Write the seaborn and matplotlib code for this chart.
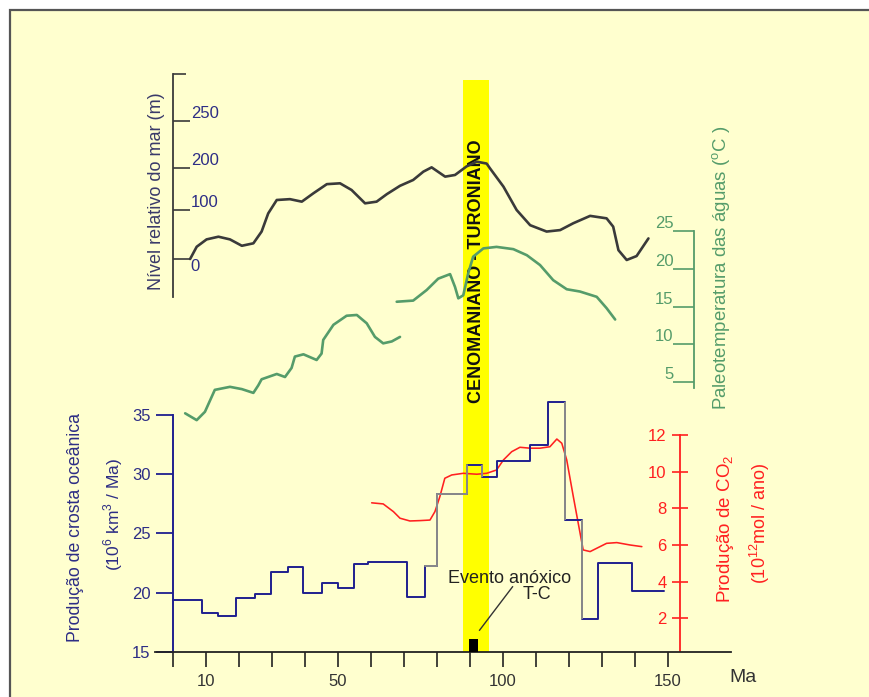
import numpy as np
import matplotlib
matplotlib.use("Agg")
import matplotlib.pyplot as plt
import seaborn as sns
from matplotlib.patches import Rectangle

# ---------------- data (ages in Ma) ----------------
# oceanic crust production, step curve (10^6 km3 / Ma)
crust_ma = [0, 8.8, 13.7, 19.0, 24.8, 29.6, 34.7, 39.5, 45.0, 49.9, 54.9, 59.2, 70.8, 76.4,
            79.9, 89.0, 93.6, 98.1, 108.3, 113.8, 118.9, 123.9, 129.0, 139.1, 149.0]
crust_val = [19.4, 18.3, 18.05, 19.5, 19.85, 21.7, 22.15, 20.0, 20.8, 20.4, 22.4, 22.6, 19.6, 22.2,
             28.3, 30.8, 29.75, 31.1, 32.5, 36.1, 26.1, 17.8, 22.5, 20.1, 20.1]
# grey parts of the crust curve
grey_ma = [76.4, 79.9, 89.0]
grey_val = [22.2, 28.3, 30.8]
grey_drop_ma = [93.6, 118.9, 123.9]

# CO2 production (10^12 mol / ano)
co2_ma = [60.2, 63.7, 66.8, 68.8, 71.8, 74.9, 77.9, 79.4, 80.9, 82.4, 84.5, 88.0, 92.1, 95.1, 98.1,
          100.2, 102.7, 105.2, 108.3, 111.3, 114.3, 116.4, 117.9, 119.4, 121.4, 122.9, 124.4,
          126.5, 128.5, 131.5, 134.6, 138.6, 142.2]
co2_val = [8.3, 8.24, 7.82, 7.46, 7.31, 7.33, 7.36, 7.82, 8.64, 9.64, 9.82, 9.91, 9.86, 9.91, 10.09,
           10.64, 11.09, 11.33, 11.28, 11.28, 11.36, 11.78, 11.55, 10.64, 8.64, 7.18, 5.73,
           5.64, 5.82, 6.09, 6.13, 6.0, 5.91]

# relative sea level (m)
sea_ma = [5.1, 7.1, 10.1, 13.7, 17.2, 20.8, 24.3, 26.8, 28.8, 31.4, 35.4, 39.0, 42.5, 46.6, 50.6,
          54.1, 58.2, 61.7, 64.8, 68.8, 72.8, 75.9, 78.4, 82.5, 85.5, 89.0, 92.1, 95.1, 96.1,
          100.2, 104.2, 108.3, 113.3, 117.4, 121.4, 126.5, 131.5, 133.5, 135.1, 137.6, 140.6, 144.2]
sea_m = [0, 25, 40, 45.5, 40, 27, 32, 56, 93, 124, 126, 120, 140, 162, 164,
         148, 116, 120, 138, 158, 172, 192, 201, 180, 184, 202, 207, 205, 200,
         156, 100, 69, 56, 59, 73, 88, 83, 66, 18, -2, 6, 42]

# paleotemperature (deg C), two pieces
temp1_ma = [3.6, 7.1, 9.6, 12.6, 17.2, 20.8, 24.3, 25.8, 26.8, 31.4, 33.9, 35.9, 36.9, 39.5, 43.5,
            45.0, 45.5, 48.6, 52.6, 55.7, 58.7, 61.2, 63.7, 66.3, 68.8]
temp1_c = [0.9, 0.0, 1.1, 4.0, 4.4, 4.1, 3.6, 4.6, 5.4, 6.1, 5.7, 6.9, 8.4, 8.7, 7.95,
           8.8, 10.6, 12.6, 13.8, 13.9, 12.8, 11.0, 10.15, 10.4, 11.0]
temp2_ma = [67.8, 72.8, 76.9, 80.4, 84.0, 85.5, 86.5, 88.0, 89.5, 91.0, 94.1, 98.1, 103.2, 107.3,
            111.3, 115.3, 119.4, 123.4, 128.5, 131.5, 134.1]
temp2_c = [15.65, 15.8, 17.2, 18.7, 19.3, 17.6, 16.1, 16.5, 19.4, 21.6, 22.7, 22.9, 22.6, 21.8,
           20.5, 18.5, 17.3, 17.0, 16.3, 14.8, 13.3]

band_start, band_end = 88.0, 95.9          # Cenomaniano - Turoniano
event_start, event_end, event_top = 89.8, 92.6, 16.05

x_ticks = list(range(0, 151, 10))
x_labels = [str(v) if v in (10, 50, 100, 150) else "" for v in x_ticks]
crust_ticks = [15, 20, 25, 30, 35]
co2_ticks = [2, 4, 6, 8, 10, 12]
temp_ticks = [5, 10, 15, 20, 25]
sea_ticks = [0, 100, 200, 250]
# the sea-level axis of the original is not evenly spaced: height (px) above the 0 mark
sea_ref_m = [-100, 0, 100, 200, 250, 350]
sea_ref_px = [-49, 0, 49, 90.7, 138, 232]

# ---------------- colours ----------------
BG = "#ffffcf"
NAVY = "#1f1f8f"
NAVY_TXT = "#2d2d85"
RED = "#ff2020"
GREEN = "#559c6a"
DARK = "#3a3a3a"
GREY = "#8a8a8a"

sns.set_theme(style="white")
plt.rcParams["font.family"] = ["Liberation Sans", "DejaVu Sans"]
plt.rcParams["mathtext.fontset"] = "custom"
plt.rcParams["mathtext.rm"] = "Liberation Sans"

W, H = 869, 697
fig = plt.figure(figsize=(W / 100, H / 100), dpi=100, facecolor="white")

# frame with pale yellow background
fig.patches.append(Rectangle((10 / W, -0.01), 1.0, 1 - 10 / H + 0.01, transform=fig.transFigure,
                             facecolor=BG, edgecolor="#555555", lw=1.6, zorder=-5))

X0_PX, PX_PER_MA = 173.3, 3.295
LEFT_PX, RIGHT_PX = 155, 731
XLIM = ((LEFT_PX - X0_PX) / PX_PER_MA, (RIGHT_PX - X0_PX) / PX_PER_MA)
TICK_FS = 12


def new_axes(top_px, bottom_px):
    ax = fig.add_axes([LEFT_PX / W, 1 - bottom_px / H, (RIGHT_PX - LEFT_PX) / W,
                       (bottom_px - top_px) / H])
    ax.set_facecolor("none")
    ax.set_xlim(*XLIM)
    for s in ax.spines.values():
        s.set_visible(False)
    ax.set_xticks([])
    ax.set_yticks([])
    ax.set_xlabel("")
    ax.set_ylabel("")
    return ax


def linear_axes(v0, px0, v1, px1, lo, hi):
    # place an axes so that value v0 sits at pixel row px0 and v1 at px1
    k = (px0 - px1) / (v1 - v0)
    ax = new_axes(px0 - (hi - v0) * k, px0 - (lo - v0) * k)
    ax.set_ylim(lo, hi)
    return ax


# ---- yellow band ----
ax_band = new_axes(80, 651.7)
ax_band.set_ylim(0, 1)
ax_band.axvspan(band_start, band_end, color="#ffff00", lw=0)
ax_band.text((band_start + band_end) / 2, 0.665, "CENOMANIANO - TURONIANO", rotation=90,
             ha="center", va="center", fontsize=13, fontweight="bold", color="#111111")

# ---- sea level ----
ax_sea = new_axes(74, 297)
sns.lineplot(x=sea_ma, y=sea_m, ax=ax_sea, color=DARK, lw=1.9, estimator=None, sort=False)
sea_fwd = lambda v: np.interp(v, sea_ref_m, sea_ref_px)
sea_inv = lambda d: np.interp(d, sea_ref_px, sea_ref_m)
ax_sea.set_yscale("function", functions=(sea_fwd, sea_inv))
ax_sea.set_ylim(sea_inv(259 - 297), sea_inv(259 - 74))
ax_sea.set_xlim(*XLIM)
ax_sea.set_xlabel("")
ax_sea.set_ylabel("")
ax_sea.spines["right"].set_visible(True)
ax_sea.spines["right"].set_position(("data", 0))
ax_sea.spines["right"].set_color(DARK)
ax_sea.spines["right"].set_linewidth(1.3)
ax_sea.yaxis.set_ticks_position("right")
ax_sea.set_yticks(sea_ticks, labels=[str(v) for v in sea_ticks])
ax_sea.set_yticks([sea_inv(259 - 74)], minor=True)
ax_sea.tick_params(axis="y", which="major", right=True, direction="out", length=12.5, width=1.2,
                   color=DARK, pad=0, labelsize=TICK_FS, labelcolor=NAVY_TXT)
ax_sea.tick_params(axis="y", which="minor", right=True, direction="out", length=9.5, width=1.2,
                   color=DARK)
for lbl in ax_sea.get_yticklabels():
    lbl.set_va("top" if lbl.get_text() == "0" else "bottom")

# ---- paleotemperature ----
ax_temp = linear_axes(5, 382.3, 25, 231, -1, 26)
for tx, ty in [(temp1_ma, temp1_c), (temp2_ma, temp2_c)]:
    sns.lineplot(x=tx, y=ty, ax=ax_temp, color=GREEN, lw=1.9, estimator=None, sort=False)
ax_temp.set_xlim(*XLIM)
ax_temp.set_ylim(-1, 26)
ax_temp.set_xlabel("")
ax_temp.set_ylabel("")
ax_temp.spines["left"].set_visible(True)
ax_temp.spines["left"].set_position(("data", (694.3 - X0_PX) / PX_PER_MA))
ax_temp.spines["left"].set_bounds(4.2, 25)
ax_temp.spines["left"].set_color(GREEN)
ax_temp.spines["left"].set_linewidth(1.3)
ax_temp.set_yticks(temp_ticks, labels=[str(v) for v in temp_ticks])
ax_temp.tick_params(axis="y", left=True, direction="out", length=15, width=1.2, color=GREEN,
                    pad=0, labelsize=TICK_FS, labelcolor=GREEN)
for lbl in ax_temp.get_yticklabels():
    lbl.set_va("bottom")

# ---- CO2 ----
ax_co2 = linear_axes(2, 618.3, 12, 435, 0, 13)
sns.lineplot(x=co2_ma, y=co2_val, ax=ax_co2, color=RED, lw=1.15, estimator=None, sort=False)
ax_co2.set_xlim(*XLIM)
ax_co2.set_ylim(0, 13)
ax_co2.set_xlabel("")
ax_co2.set_ylabel("")
ax_co2.spines["left"].set_visible(True)
ax_co2.spines["left"].set_position(("data", (680 - X0_PX) / PX_PER_MA))
ax_co2.spines["left"].set_bounds(0.2, 12)
ax_co2.spines["left"].set_color(RED)
ax_co2.spines["left"].set_linewidth(1.3)
ax_co2.set_yticks(co2_ticks, labels=[str(v) for v in co2_ticks])
ax_co2.tick_params(axis="y", left=True, direction="inout", length=11.5, width=1.2, color=RED,
                   pad=4, labelsize=TICK_FS, labelcolor=RED)

# ---- oceanic crust production + time axis ----
ax = linear_axes(15, 651.7, 35, 415, 15, 38)
sns.lineplot(x=crust_ma, y=crust_val, ax=ax, color=NAVY, lw=1.4, estimator=None, sort=False,
             drawstyle="steps-post")
sns.lineplot(x=grey_ma, y=grey_val, ax=ax, color=GREY, lw=1.4, estimator=None, sort=False,
             drawstyle="steps-post")
for m in grey_drop_ma:
    i = crust_ma.index(m)
    ax.vlines(m, crust_val[i - 1], crust_val[i], color=GREY, lw=1.4)
ax.bar((event_start + event_end) / 2, event_top - 15, width=event_end - event_start, bottom=15,
       color="black", edgecolor="black", lw=0, zorder=3)
ax.set_xlim(*XLIM)
ax.set_ylim(15, 38)
ax.set_xlabel("")
ax.set_ylabel("")
ax.spines["left"].set_visible(True)
ax.spines["left"].set_position(("data", 0))
ax.spines["left"].set_bounds(15, 35)
ax.spines["left"].set_color(NAVY)
ax.spines["left"].set_linewidth(1.4)
ax.spines["bottom"].set_visible(True)
ax.spines["bottom"].set_color("#222222")
ax.spines["bottom"].set_linewidth(1.3)
ax.set_yticks(crust_ticks, labels=[str(v) for v in crust_ticks])
ax.tick_params(axis="y", left=True, direction="out", length=12.5, width=1.3, color=NAVY, pad=4,
               labelsize=TICK_FS, labelcolor=NAVY_TXT)
ax.set_xticks(x_ticks, labels=x_labels)
ax.tick_params(axis="x", bottom=True, direction="out", length=10.8, width=1.2, color="#222222",
               pad=5, labelsize=TICK_FS, labelcolor="#333333")

# anoxic event annotation
ax.text(102.2, 21.2, "Evento anóxico", ha="center", va="center", fontsize=13, color="#222222")
ax.text(110.4, 19.8, "T-C", ha="center", va="center", fontsize=13, color="#222222")
ax.annotate("", xy=(92.9, 16.8), xytext=(103.0, 20.5),
            arrowprops=dict(arrowstyle="-", color="#333333", lw=1, shrinkA=0, shrinkB=0))


# ---- axis titles ----
def ftext(xp, yp, s, **kw):
    fig.text(xp / W, 1 - yp / H, s, ha="center", va="center", **kw)


ftext(156.7, 191, "Nível relativo do mar (m)", rotation=90, fontsize=13, color="#3a3a6a")
ftext(75, 527, "Produção de crosta oceânica", rotation=90, fontsize=12.7, color=NAVY_TXT)
ftext(113, 514, "(10$^6$ km$^3$ / Ma)", rotation=90, fontsize=12.5, color=NAVY_TXT)
ftext(722, 268, "Paleotemperatura das águas ($^{\\mathrm{o}}$C )", rotation=90, fontsize=13.4,
      color=GREEN)
ftext(725, 529, "Produção de CO$_2$", rotation=90, fontsize=13.5, color=RED)
ftext(760, 523, "(10$^{12}$mol / ano)", rotation=90, fontsize=13, color=RED)
ftext(743, 677, "Ma", fontsize=14, color="#333333")

fig.savefig("out.png", dpi=100, facecolor="white")
